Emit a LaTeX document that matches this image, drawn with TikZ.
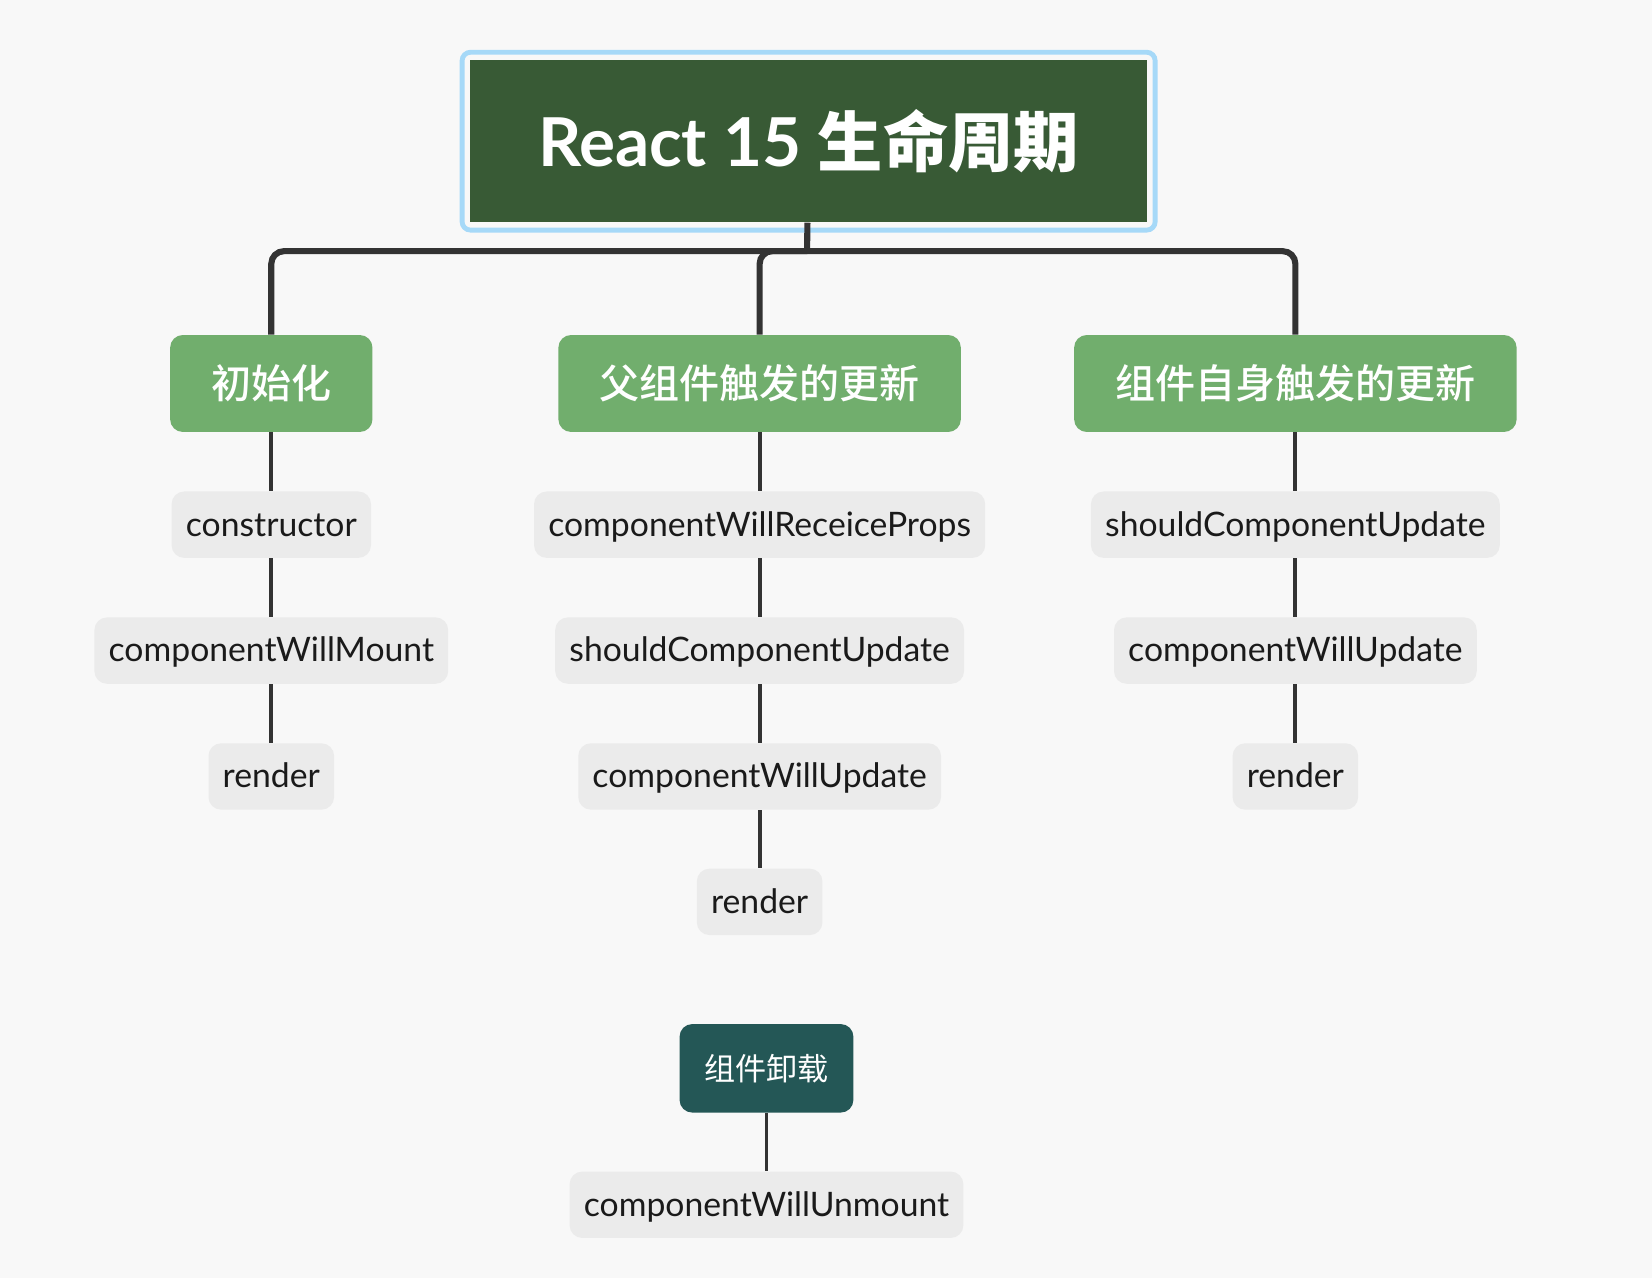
\documentclass[tikz,border=0pt]{standalone}
\usepackage{fontspec}
\setmainfont{Lato}
\newfontfamily\cjk{Noto Sans CJK SC}
\newfontfamily\cjkmed{Noto Sans CJK SC Medium}
\usepackage{xcolor}
\usetikzlibrary{calc}

\definecolor{paper}{HTML}{F8F8F8}
\definecolor{rootgreen}{HTML}{385A35}
\definecolor{ringblue}{HTML}{A6D9F8}
\definecolor{topicgreen}{HTML}{71AE6D}
\definecolor{teal}{HTML}{245756}
\definecolor{leafgray}{HTML}{EBEBEB}
\definecolor{wire}{HTML}{333333}
\definecolor{ink}{HTML}{1A1A1A}

\begin{document}
\begin{tikzpicture}[x=0.5pt,y=-0.5pt]
            \tikzset{root/.style = {fill=rootgreen, text=white, minimum width=321.5pt, minimum height=77pt, inner sep=0pt}}
            \tikzset{topic/.style = {fill=topicgreen, text=white, rounded corners=6pt, minimum height=46pt, inner xsep=19.5pt, font=\cjkmed\fontsize{19}{22}\selectfont}}
            \tikzset{detached/.style = {fill=teal, text=white, rounded corners=6pt, minimum height=42pt, inner xsep=11.75pt, font=\cjk\fontsize{14.75}{18}\selectfont}}
            \tikzset{leaf/.style = {fill=leafgray, text=ink, rounded corners=6pt, minimum height=31.5pt, inner xsep=6.75pt, text height=10.8pt, text depth=0pt, font=\fontsize{16}{19}\selectfont}}
            \tikzset{trunk/.style = {draw=wire, line width=2.9pt}}
            \tikzset{edge/.style = {draw=wire, line width=1.8pt}}

            \path[use as bounding box, fill=paper] (0,0) rectangle (1568,1213);

            % central topic
            \node[root] (title) at (767.5,134) {\fontsize{32}{36}\selectfont\bfseries React 15 {\cjk\fontsize{31}{36}\selectfont 生命周期}};
            \draw[ringblue, line width=2.3pt, rounded corners=4pt] ($(title.north west)+(-3.5pt,3.5pt)$) rectangle ($(title.south east)+(3.5pt,-3.5pt)$);
            \coordinate (hub) at ($(title.south)+(-1.5,27)$);

            % main topics
            \node[topic] (init) at (257.5,364) {初始化};
            \node[topic] (parent) at (721,364) {父组件触发的更新};
            \node[topic] (self) at (1229.5,364) {组件自身触发的更新};
            \node[detached] (unmount) at (727.5,1014) {组件卸载};

            % subtopics
            \node[leaf] (i1) at (257.5,498) {constructor};
            \node[leaf] (i2) at (257.5,617.5) {componentWillMount};
            \node[leaf] (i3) at (257.5,737) {render};
            \node[leaf] (p1) at (721,498) {componentWillReceiceProps};
            \node[leaf] (p2) at (721,617.5) {shouldComponentUpdate};
            \node[leaf] (p3) at (721,737) {componentWillUpdate};
            \node[leaf] (p4) at (721,856) {render};
            \node[leaf] (s1) at (1229.5,498) {shouldComponentUpdate};
            \node[leaf] (s2) at (1229.5,617.5) {componentWillUpdate};
            \node[leaf] (s3) at (1229.5,737) {render};
            \node[leaf] (u1) at (727.5,1143.5) {componentWillUnmount};

            % edges
            \draw[trunk] (title) -- (hub);
            \foreach \t in {init,parent,self} {\draw[trunk, rounded corners=6pt] (hub) -| (\t);}
            \foreach \a/\b in {init/i1,i1/i2,i2/i3,parent/p1,p1/p2,p2/p3,p3/p4,self/s1,s1/s2,s2/s3,unmount/u1} {\draw[edge] (\a) -- (\b);}

          \end{tikzpicture}
\end{document}
